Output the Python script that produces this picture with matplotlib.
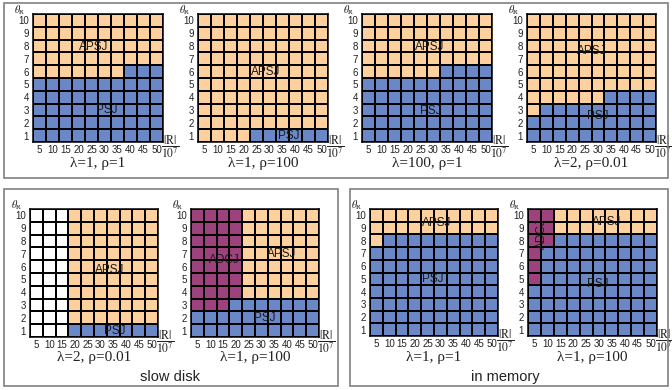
import matplotlib
matplotlib.use('Agg')
import matplotlib.pyplot as plt
import matplotlib.transforms as mtransforms
import numpy as np
from matplotlib.colors import ListedColormap
from matplotlib.patches import Rectangle

plt.rcParams['mathtext.fontset'] = 'stix'
plt.rcParams['font.family'] = ['Liberation Sans', 'DejaVu Sans']

# ---------------- data ----------------
theta_ticks = list(range(1, 11))
r_ticks = [5, 10, 15, 20, 25, 30, 35, 40, 45, 50]
region_names = ['none', 'APSJ', 'PSJ', 'ADCJ']
# codes: '.' none, 'A' APSJ, 'P' PSJ, 'D' ADCJ ; rows from theta=1 (bottom) up to theta=10
grid_l1_r1 = ["PPPPPPPPPP", "PPPPPPPPPP", "PPPPPPPPPP", "PPPPPPPPPP", "PPPPPPPPPP",
              "AAAAAAAPPP", "AAAAAAAAAA", "AAAAAAAAAA", "AAAAAAAAAA", "AAAAAAAAAA"]
grid_l1_r100 = ["AAAAPPPPPP", "AAAAAAAAAA", "AAAAAAAAAA", "AAAAAAAAAA", "AAAAAAAAAA",
                "AAAAAAAAAA", "AAAAAAAAAA", "AAAAAAAAAA", "AAAAAAAAAA", "AAAAAAAAAA"]
grid_l100_r1 = ["PPPPPPPPPP", "PPPPPPPPPP", "PPPPPPPPPP", "PPPPPPPPPP", "PPPPPPPPPP",
                "AAAAAAPPPP", "AAAAAAAAAA", "AAAAAAAAAA", "AAAAAAAAAA", "AAAAAAAAAA"]
grid_l2_r001 = ["PPPPPPPPPP", "PPPPPPPPPP", "APPPPPPPPP", "AAAAAAPPPP", "AAAAAAAAAA",
                "AAAAAAAAAA", "AAAAAAAAAA", "AAAAAAAAAA", "AAAAAAAAAA", "AAAAAAAAAA"]
grid_slow_l2_r001 = ["...PPPPPPP", "...AAAAAAA", "...AAAAAAA", "...AAAAAAA", "...AAAAAAA",
                     "...AAAAAAA", "...AAAAAAA", "...AAAAAAA", "...AAAAAAA", "...AAAAAAA"]
grid_slow_l1_r100 = ["PPPPPPPPPP", "PPPPPPPPPP", "DDDPPPPPPP", "DDDDAAAAAA", "DDDDAAAAAA",
                     "DDDDAAAAAA", "DDDDAAAAAA", "DDDDAAAAAA", "DDDDAAAAAA", "DDDDAAAAAA"]
grid_mem_l1_r1 = ["PPPPPPPPPP", "PPPPPPPPPP", "PPPPPPPPPP", "PPPPPPPPPP", "PPPPPPPPPP",
                  "PPPPPPPPPP", "PPPPPPPPPP", "APPPPPPPPP", "AAAAAAAAAA", "AAAAAAAAAA"]
grid_mem_l1_r100 = ["PPPPPPPPPP", "PPPPPPPPPP", "PPPPPPPPPP", "PPPPPPPPPP", "DPPPPPPPPP",
                    "DPPPPPPPPP", "DPPPPPPPPP", "DDPPPPPPPP", "DDAAAAAAAA", "DDAAAAAAAA"]
subtitles = ["λ=1, ρ=1", "λ=1, ρ=100", "λ=100, ρ=1", "λ=2, ρ=0.01",
             "λ=2, ρ=0.01", "λ=1, ρ=100", "λ=1, ρ=1", "λ=1, ρ=100"]
group_titles = ["slow disk", "in memory"]

# ---------------- style / layout ----------------
W, H = 672, 390
code_map = {'.': 0, 'A': 1, 'P': 2, 'D': 3}
cmap = ListedColormap(['#ffffff', '#fdd09e', '#6a88c8', '#9e427e'])

fig = plt.figure(figsize=(W / 100, H / 100), dpi=100)

# frames (pixels: x0, y0, x1, y1)
frames = [(4, 3, 668, 178), (4, 189, 338, 386), (350, 189, 668, 386)]
for (x0, y0, x1, y1) in frames:
    fig.patches.append(Rectangle((x0 / W, 1 - y1 / H), (x1 - x0) / W, (y1 - y0) / H,
                                 transform=fig.transFigure, fill=False,
                                 edgecolor='#808080', linewidth=1.2))

panels = [
    (grid_l1_r1, (33, 14, 163, 142), [("APSJ", 4.7, 7.4, 0), ("PSJ", 5.7, 2.5, 0)]),
    (grid_l1_r100, (198, 14, 328, 142), [("APSJ", 5.2, 5.5, 0), ("PSJ", 7.0, 0.5, 0)]),
    (grid_l100_r1, (362, 14, 492, 142), [("APSJ", 5.2, 7.4, 0), ("PSJ", 5.3, 2.4, 0)]),
    (grid_l2_r001, (527, 14, 656, 142), [("APSJ", 5.0, 7.1, 0), ("PSJ", 5.5, 2.0, 0)]),
    (grid_slow_l2_r001, (30, 209, 158, 337), [("APSJ", 6.2, 5.2, 0), ("PSJ", 6.6, 0.5, 0)]),
    (grid_slow_l1_r100, (191, 209, 319, 337), [("ADCJ", 2.6, 6.0, 0), ("APSJ", 7.1, 6.5, 0),
                                               ("PSJ", 5.8, 1.5, 0)]),
    (grid_mem_l1_r1, (370, 209, 498, 336), [("APSJ", 5.2, 8.9, 0), ("PSJ", 4.9, 4.5, 0)]),
    (grid_mem_l1_r100, (528, 209, 657, 336), [("ADCJ", 1.1, 8.1, 90), ("APSJ", 6.1, 9.0, 0),
                                              ("PSJ", 5.4, 4.1, 0)]),
]

for (grid, (x0, y0, x1, y1), labels), sub in zip(panels, subtitles):
    ax = fig.add_axes([x0 / W, 1 - y1 / H, (x1 - x0) / W, (y1 - y0) / H])
    codes = np.array([[code_map[c] for c in row] for row in grid])
    ax.pcolormesh(np.arange(len(r_ticks) + 1), np.arange(len(theta_ticks) + 1), codes,
                  cmap=cmap, vmin=-0.5, vmax=3.5, edgecolors='black', linewidth=1.1)
    ax.set_xlim(0, len(r_ticks))
    ax.set_ylim(0, len(theta_ticks))
    ax.set_xticks(np.arange(len(r_ticks)) + 0.5)
    ax.set_xticklabels([str(v) for v in r_ticks])
    ax.set_yticks(np.arange(len(theta_ticks)) + 0.5)
    ax.set_yticklabels([str(v) for v in theta_ticks])
    ax.tick_params(length=0, labelsize=7, pad=3, colors='#222222')
    ax.tick_params(axis='x', pad=2)
    for s in ax.spines.values():
        s.set_linewidth(1.1)
    for (txt, tx, ty, rot) in labels:
        ax.text(tx, ty, txt, ha='center', va='center', fontsize=8.5, rotation=rot,
                color='#1a1a1a', zorder=5)
    # theta_R label
    tr = mtransforms.offset_copy(ax.transAxes, fig=fig, x=-13, y=4, units='dots')
    ax.text(0, 1, r'$\theta_{\rm R}$', transform=tr, ha='center', va='center',
            fontsize=7.5, color='#222222')
    # |R|/10^7 label
    tr2 = mtransforms.offset_copy(ax.transAxes, fig=fig, x=7, y=-5, units='dots')
    ax.text(1, 0, r'$\dfrac{|\mathrm{R}|}{10^7}$', transform=tr2, ha='center', va='center',
            fontsize=8.5, color='#222222')
    # subtitle
    fig.text((x0 + x1) / 2 / W, 1 - (y1 + 21) / H, sub, ha='center', va='center',
             fontsize=11, family='Liberation Serif', color='#222222')

fig.text(170 / W, 1 - 377 / H, group_titles[0], ha='center', va='center', fontsize=10.5,
         color='#222222')
fig.text(505 / W, 1 - 377 / H, group_titles[1], ha='center', va='center', fontsize=10.5,
         color='#222222')

fig.savefig('out.png', dpi=100)
